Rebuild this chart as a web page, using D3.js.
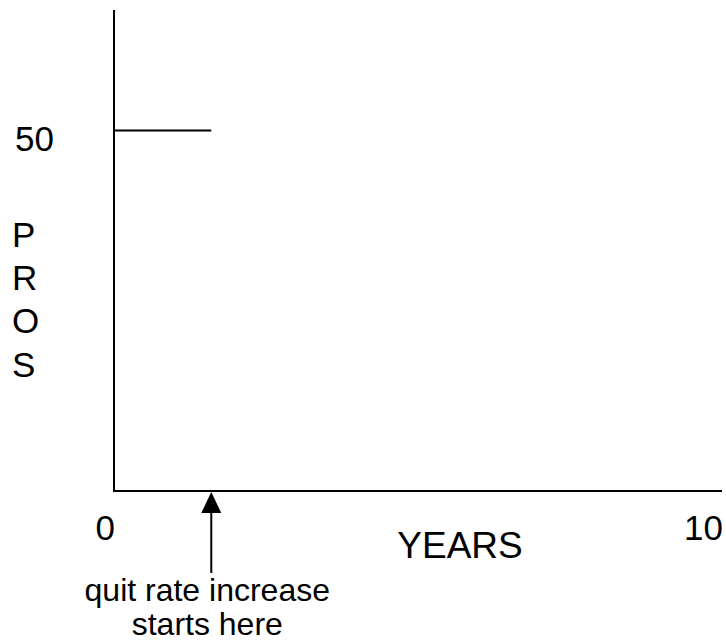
<!DOCTYPE html>
<html>
<head>
<meta charset="utf-8">
<script src="https://cdn.jsdelivr.net/npm/d3@7"></script>
<style>
	body { margin: 0; background: #fff; }
	svg text { font-family: "Liberation Sans", Arial, sans-serif; fill: #000; }
</style>
</head>
<body>
<div class="container"></div>
<script>

// chart values
const yearTicks = [0, 10];
const prosTicks = [50];
const startLevel = [
	{ year: 0, pros: 50 },
	{ year: 1.6, pros: 50 }
];
const quitStartYear = 1.6;
const yLetters = ["P", "R", "O", "S"];
const xTitle = "YEARS";
const noteLines = ["quit rate increase", "starts here"];

const outerWidth = 726;
const outerHeight = 641;

const svg = d3.select(".container")
				.append("svg")
					.attr("width", outerWidth)
					.attr("height", outerHeight);

const scaleYear = d3.scaleLinear()
					.domain([0, 10])
					.range([114, 722]);

const scalePros = d3.scaleLinear()
					.domain([0, 50])
					.range([491, 130.5]);

// axes
svg.append("line")
	.attr("x1", scaleYear(0))
	.attr("x2", scaleYear(0))
	.attr("y1", 10)
	.attr("y2", scalePros(0))
	.style("stroke", "#000")
	.style("stroke-width", 2);

svg.append("line")
	.attr("x1", scaleYear(0) - 1)
	.attr("x2", scaleYear(10))
	.attr("y1", scalePros(0))
	.attr("y2", scalePros(0))
	.style("stroke", "#000")
	.style("stroke-width", 2);

// tick labels
svg.selectAll(".year-tick")
	.data(yearTicks).enter()
	.append("text")
		.attr("class", "year-tick")
		.attr("x", (d) => scaleYear(d) + 1)
		.attr("y", scalePros(0) + 49)
		.attr("text-anchor", "end")
		.style("font-size", "35px")
		.text((d) => d);

svg.selectAll(".pros-tick")
	.data(prosTicks).enter()
	.append("text")
		.attr("class", "pros-tick")
		.attr("x", 54)
		.attr("y", (d) => scalePros(d) + 20.5)
		.attr("text-anchor", "end")
		.style("font-size", "35px")
		.text((d) => d);

// axis titles
svg.append("text")
	.attr("x", 460)
	.attr("y", 558)
	.attr("text-anchor", "middle")
	.style("font-size", "37px")
	.text(xTitle);

svg.append("text")
	.selectAll("tspan")
		.data(yLetters).enter()
	.append("tspan")
		.attr("x", 12)
		.attr("y", (d, i) => 247 + i * 43.2)
		.style("font-size", "35px")
		.text((d) => d);

// starting level
const line = d3.line()
				.x((d) => scaleYear(d.year))
				.y((d) => scalePros(d.pros));

svg.append("path")
	.datum(startLevel)
	.attr("d", line)
	.style("fill", "none")
	.style("stroke", "#000")
	.style("stroke-width", 2);

// arrow marking the start of the quit rate increase
const ax = scaleYear(quitStartYear);
const tipY = scalePros(0) + 1;

svg.append("path")
	.attr("d", `M${ax},${tipY} L${ax - 10},${tipY + 21} L${ax + 10},${tipY + 21} Z`)
	.style("fill", "#000");

svg.append("line")
	.attr("x1", ax)
	.attr("x2", ax)
	.attr("y1", tipY + 20)
	.attr("y2", tipY + 81)
	.style("stroke", "#000")
	.style("stroke-width", 2);

svg.append("text")
	.selectAll("tspan")
		.data(noteLines).enter()
	.append("tspan")
		.attr("x", ax - 4)
		.attr("y", (d, i) => 601 + i * 34)
		.attr("text-anchor", "middle")
		.style("font-size", "32px")
		.text((d) => d);

</script>
</body>
</html>
